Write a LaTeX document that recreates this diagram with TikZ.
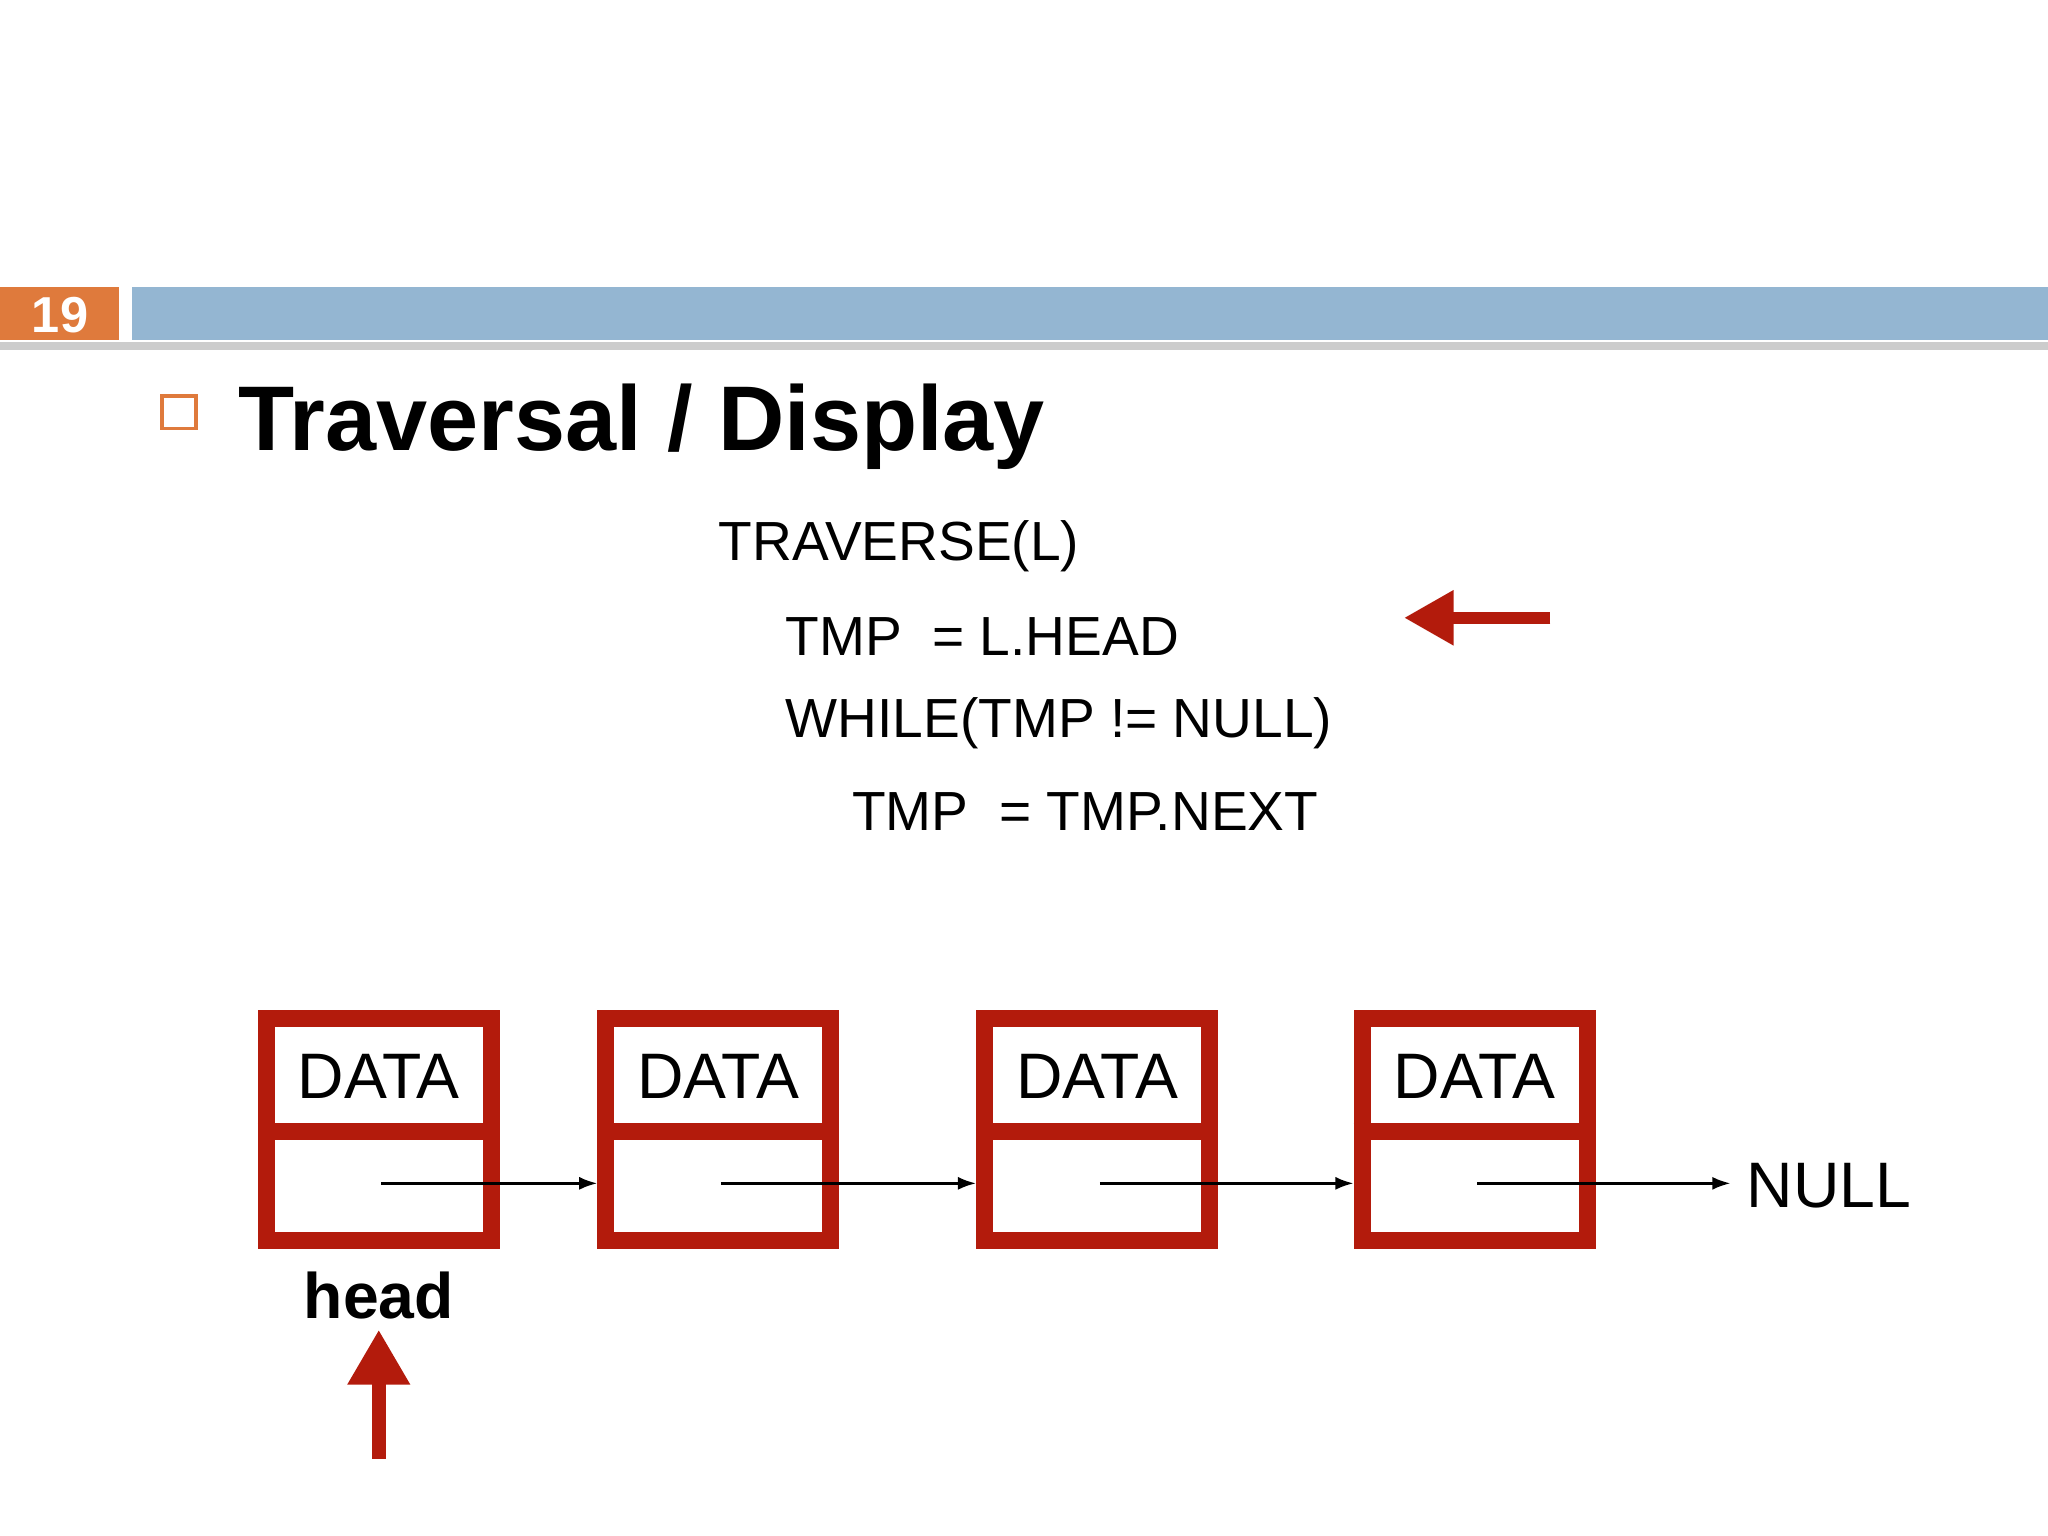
\documentclass[tikz,border=0pt]{standalone}
\usepackage{fontspec}
\setmainfont{Liberation Sans}
\usetikzlibrary{arrows.meta,positioning}
\definecolor{boxred}{HTML}{B31B0C}
\definecolor{barblue}{HTML}{94B6D2}
\definecolor{numorange}{HTML}{DF7A3C}
\tikzset{
  cell/.style={draw=boxred,line width=0.13cm,minimum width=1.72cm,minimum height=1.7cm},
  code/.style={anchor=west,font=\fontsize{12}{14}\selectfont},
  ptr/.style={-{Latex[length=0.14cm,width=0.1cm]},line width=0.6pt}
}
\begin{document}
\begin{tikzpicture}[x=0.01cm,y=-0.01cm]
  \useasboundingbox (0,0) rectangle (1568,1176);

  % header bar
  \fill[gray!40] (0,262) rectangle (1568,268);
  \fill[numorange] (0,220) rectangle (91,260);
  \fill[barblue] (101,220) rectangle (1568,260);
  \node[text=white,font=\bfseries\fontsize{11}{13}\selectfont] (num) at (46,241) {19};
  \draw[numorange,line width=0.8pt] (124,303) rectangle (150,328);
  \node[anchor=west,font=\bfseries\fontsize{20}{24}\selectfont] (title) at (170,327) {Traversal / Display};

  % pseudo code
  \node[code] (l1) at (538,418) {TRAVERSE(L)};
  \node[code] (l2) at (589,487) {TMP \ = L.HEAD};
  \node[code] (l3) at (589,554) {WHILE(TMP != NULL)};
  \node[code] (l4) at (640,621) {TMP \ = TMP.NEXT};
  \coordinate (mark) at (1187,473);
  \draw[boxred,line width=0.09cm,-{Triangle[length=0.38cm,width=0.4cm]}] (mark) -- ++(-112,0);

  % list nodes
  \foreach \i/\x in {1/290,2/550,3/840,4/1129}{
    \node[cell] (b\i) at (\x,865) {};
    \draw[boxred,line width=0.13cm] (b\i.west |- 0,866) -- (b\i.east |- 0,866);
    \node[font=\fontsize{14}{16}\selectfont] (d\i) at (\x,824) {DATA};
    \coordinate (p\i) at (\x+2,906);
  }
  \node[anchor=west,font=\fontsize{14}{16}\selectfont] (null) at (1325,908) {NULL};
  \draw[ptr] (p1) -- (b2.west |- p1);
  \draw[ptr] (p2) -- (b3.west |- p2);
  \draw[ptr] (p3) -- (b4.west |- p3);
  \draw[ptr] (p4) -- (null.west |- p4);

  \node[font=\bfseries\fontsize{14}{16}\selectfont] (head) at (290,992) {head};
  \coordinate (hp) at (290,1117);
  \draw[boxred,line width=0.11cm,-{Triangle[length=0.42cm,width=0.45cm]}] (hp) -- (head.south |- 0,1018);
\end{tikzpicture}
\end{document}
